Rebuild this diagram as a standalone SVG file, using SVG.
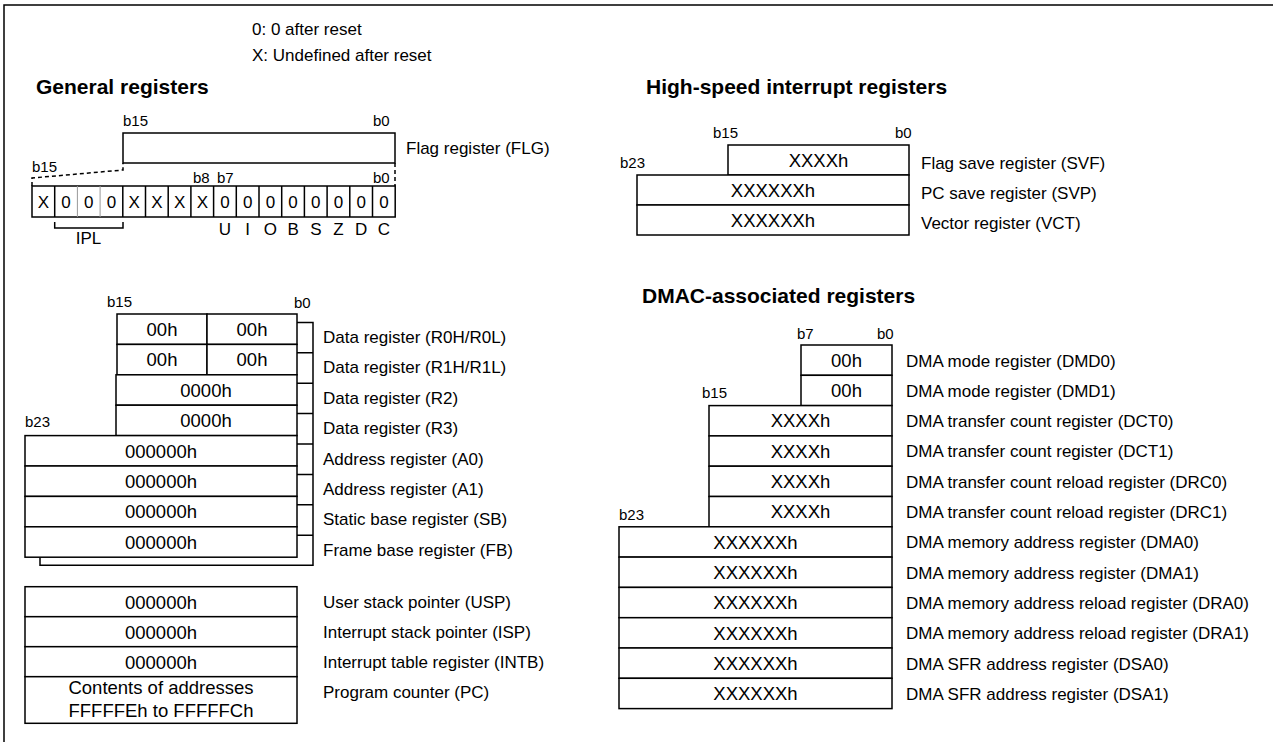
<svg xmlns="http://www.w3.org/2000/svg" width="1273" height="742" viewBox="0 0 1273 742">
<style>
text{font-family:"Liberation Sans",Arial,sans-serif;fill:#000}
.t{font-size:17px}
.v{font-size:18.5px;text-anchor:middle}
.bit{font-size:17px;text-anchor:middle}
.bl{font-size:15px}
.h{font-size:21px;font-weight:bold}
.box{fill:#fff;stroke:#000;stroke-width:1.5}
.ln{fill:none;stroke:#000;stroke-width:1.5}
.thin{fill:none;stroke:#999;stroke-width:1}
.dash{fill:none;stroke:#000;stroke-width:1.5;stroke-dasharray:4 3}
</style>
<rect x="0" y="0" width="1273" height="742" fill="#fff"/>
<path class="ln" d="M4,742 V5 H1273"/>
<text class="t" x="252" y="35">0: 0 after reset</text>
<text class="t" x="252" y="61">X: Undefined after reset</text>
<text class="h" x="36" y="94">General registers</text>
<text class="h" x="646" y="94">High-speed interrupt registers</text>
<text class="h" x="642" y="303">DMAC-associated registers</text>

<g id="flg">
<text class="bl" x="123" y="126">b15</text>
<text class="bl" x="373" y="126">b0</text>
<rect class="box" x="123" y="133" width="272" height="30"/>
<text class="t" x="406" y="154">Flag register (FLG)</text>
</g>

<g id="flg-bits">
<path class="dash" d="M32,186 V178 L123,170 V163"/>
<path class="dash" d="M395,163 V186"/>
<text class="bl" x="32" y="172">b15</text>
<text class="bl" x="193" y="183">b8</text>
<text class="bl" x="217" y="183">b7</text>
<text class="bl" x="373" y="183">b0</text>
<rect class="box" x="32" y="186" width="363.2" height="31"/>
<path class="thin" d="M77.4,186V217M100.1,186V217"/>
<path class="ln" d="M54.7,186V217M122.8,186V217M145.5,186V217M168.2,186V217M190.9,186V217M213.6,186V217M236.3,186V217M259,186V217M281.7,186V217M304.4,186V217M327.1,186V217M349.8,186V217M372.5,186V217"/>
<text class="bit" x="43.4" y="207.5">X</text>
<text class="bit" x="66.1" y="207.5">0</text>
<text class="bit" x="88.8" y="207.5">0</text>
<text class="bit" x="111.5" y="207.5">0</text>
<text class="bit" x="134.2" y="207.5">X</text>
<text class="bit" x="156.9" y="207.5">X</text>
<text class="bit" x="179.6" y="207.5">X</text>
<text class="bit" x="202.3" y="207.5">X</text>
<text class="bit" x="225" y="207.5">0</text>
<text class="bit" x="247.7" y="207.5">0</text>
<text class="bit" x="270.4" y="207.5">0</text>
<text class="bit" x="293.1" y="207.5">0</text>
<text class="bit" x="315.8" y="207.5">0</text>
<text class="bit" x="338.5" y="207.5">0</text>
<text class="bit" x="361.2" y="207.5">0</text>
<text class="bit" x="383.9" y="207.5">0</text>
<text class="bit" x="225" y="235">U</text>
<text class="bit" x="247.7" y="235">I</text>
<text class="bit" x="270.4" y="235">O</text>
<text class="bit" x="293.1" y="235">B</text>
<text class="bit" x="315.8" y="235">S</text>
<text class="bit" x="338.5" y="235">Z</text>
<text class="bit" x="361.2" y="235">D</text>
<text class="bit" x="383.9" y="235">C</text>
<path class="ln" d="M54.7,222 V228 H123 V222"/>
<text class="bit" x="88.5" y="244">IPL</text>
</g>

<g id="connectors">
<path class="ln" d="M297,322.4 H313 V565.2 H40 V557.2"/>
<path class="ln" d="M297,352.8 H313 M297,383.2 H313 M297,413.6 H313 M297,444 H313 M297,474.4 H313 M297,504.8 H313 M297,535.2 H313"/>
</g>

<g id="general-bank">
<text class="bl" x="107" y="307">b15</text>
<text class="bl" x="294" y="308">b0</text>
<text class="bl" x="25" y="427">b23</text>
<rect class="box" x="117" y="314" width="90" height="30.4"/>
<rect class="box" x="207" y="314" width="90" height="30.4"/>
<text class="v" x="162" y="336">00h</text>
<text class="v" x="252" y="336">00h</text>
<rect class="box" x="117" y="344.4" width="90" height="30.4"/>
<rect class="box" x="207" y="344.4" width="90" height="30.4"/>
<text class="v" x="162" y="366.4">00h</text>
<text class="v" x="252" y="366.4">00h</text>
<rect class="box" x="116" y="374.8" width="181" height="30.4"/>
<text class="v" x="206" y="396.8">0000h</text>
<rect class="box" x="116" y="405.2" width="181" height="30.4"/>
<text class="v" x="206" y="427.2">0000h</text>
<rect class="box" x="25" y="435.6" width="272" height="30.4"/>
<text class="v" x="161" y="457.6">000000h</text>
<rect class="box" x="25" y="466" width="272" height="30.4"/>
<text class="v" x="161" y="488">000000h</text>
<rect class="box" x="25" y="496.4" width="272" height="30.4"/>
<text class="v" x="161" y="518.4">000000h</text>
<rect class="box" x="25" y="526.8" width="272" height="30.4"/>
<text class="v" x="161" y="548.8">000000h</text>
<text class="t" x="323" y="343">Data register (R0H/R0L)</text>
<text class="t" x="323" y="373.4">Data register (R1H/R1L)</text>
<text class="t" x="323" y="403.8">Data register (R2)</text>
<text class="t" x="323" y="434.2">Data register (R3)</text>
<text class="t" x="323" y="464.6">Address register (A0)</text>
<text class="t" x="323" y="495">Address register (A1)</text>
<text class="t" x="323" y="525.4">Static base register (SB)</text>
<text class="t" x="323" y="555.8">Frame base register (FB)</text>
</g>

<g id="general-other">
<rect class="box" x="25" y="586.7" width="272" height="30"/>
<text class="v" x="161" y="608.7">000000h</text>
<rect class="box" x="25" y="616.7" width="272" height="30"/>
<text class="v" x="161" y="638.7">000000h</text>
<rect class="box" x="25" y="646.7" width="272" height="30"/>
<text class="v" x="161" y="668.7">000000h</text>
<rect class="box" x="25" y="676.7" width="272" height="46.6"/>
<text class="v" x="161" y="694">Contents of addresses</text>
<text class="v" x="161" y="717">FFFFFEh to FFFFFCh</text>
<text class="t" x="323" y="608">User stack pointer (USP)</text>
<text class="t" x="323" y="638">Interrupt stack pointer (ISP)</text>
<text class="t" x="323" y="668">Interrupt table register (INTB)</text>
<text class="t" x="323" y="698">Program counter (PC)</text>
</g>

<g id="high-speed">
<text class="bl" x="713" y="138">b15</text>
<text class="bl" x="895" y="138">b0</text>
<text class="bl" x="620" y="168">b23</text>
<rect class="box" x="728" y="145" width="181" height="30"/>
<text class="v" x="818.5" y="166.5">XXXXh</text>
<rect class="box" x="637" y="175" width="272" height="30"/>
<text class="v" x="773" y="196.5">XXXXXXh</text>
<rect class="box" x="637" y="205" width="272" height="30"/>
<text class="v" x="773" y="226.5">XXXXXXh</text>
<text class="t" x="921" y="169">Flag save register (SVF)</text>
<text class="t" x="921" y="199">PC save register (SVP)</text>
<text class="t" x="921" y="229">Vector register (VCT)</text>
</g>

<g id="dmac">
<text class="bl" x="797" y="339">b7</text>
<text class="bl" x="877" y="339">b0</text>
<text class="bl" x="702" y="398">b15</text>
<text class="bl" x="619" y="520">b23</text>
<rect class="box" x="801" y="345" width="91" height="30.3"/>
<text class="v" x="846.5" y="366.8">00h</text>
<rect class="box" x="801" y="375.3" width="91" height="30.3"/>
<text class="v" x="846.5" y="397.1">00h</text>
<rect class="box" x="709" y="405.6" width="183" height="30.3"/>
<text class="v" x="800.5" y="427.4">XXXXh</text>
<rect class="box" x="709" y="435.9" width="183" height="30.3"/>
<text class="v" x="800.5" y="457.7">XXXXh</text>
<rect class="box" x="709" y="466.2" width="183" height="30.3"/>
<text class="v" x="800.5" y="488">XXXXh</text>
<rect class="box" x="709" y="496.5" width="183" height="30.3"/>
<text class="v" x="800.5" y="518.3">XXXXh</text>
<rect class="box" x="619" y="526.8" width="273" height="30.3"/>
<text class="v" x="755.5" y="548.6">XXXXXXh</text>
<rect class="box" x="619" y="557.1" width="273" height="30.3"/>
<text class="v" x="755.5" y="578.9">XXXXXXh</text>
<rect class="box" x="619" y="587.4" width="273" height="30.3"/>
<text class="v" x="755.5" y="609.2">XXXXXXh</text>
<rect class="box" x="619" y="617.7" width="273" height="30.3"/>
<text class="v" x="755.5" y="639.5">XXXXXXh</text>
<rect class="box" x="619" y="648" width="273" height="30.3"/>
<text class="v" x="755.5" y="669.8">XXXXXXh</text>
<rect class="box" x="619" y="678.3" width="273" height="30.3"/>
<text class="v" x="755.5" y="700.1">XXXXXXh</text>
<text class="t" x="906" y="366.5">DMA mode register (DMD0)</text>
<text class="t" x="906" y="396.8">DMA mode register (DMD1)</text>
<text class="t" x="906" y="427.1">DMA transfer count register (DCT0)</text>
<text class="t" x="906" y="457.4">DMA transfer count register (DCT1)</text>
<text class="t" x="906" y="487.7">DMA transfer count reload register (DRC0)</text>
<text class="t" x="906" y="518">DMA transfer count reload register (DRC1)</text>
<text class="t" x="906" y="548.3">DMA memory address register (DMA0)</text>
<text class="t" x="906" y="578.6">DMA memory address register (DMA1)</text>
<text class="t" x="906" y="608.9">DMA memory address reload register (DRA0)</text>
<text class="t" x="906" y="639.2">DMA memory address reload register (DRA1)</text>
<text class="t" x="906" y="669.5">DMA SFR address register (DSA0)</text>
<text class="t" x="906" y="699.8">DMA SFR address register (DSA1)</text>
</g>
</svg>
